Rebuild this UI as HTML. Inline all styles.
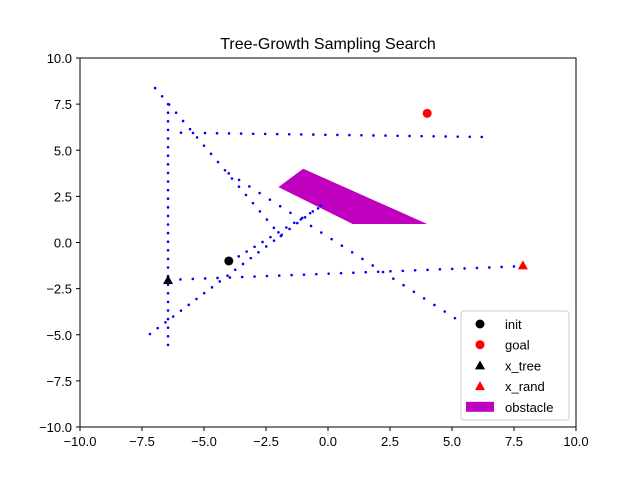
<!DOCTYPE html>
<html><head><meta charset="utf-8"><style>
body{margin:0;background:#fff}
text{font-family:"Liberation Sans","DejaVu Sans",sans-serif;font-size:13px;fill:#000}
</style></head><body>
<svg id="chart" width="640" height="480" xmlns="http://www.w3.org/2000/svg">
<rect width="640" height="480" fill="#fff"/>
<text x="328" y="49" text-anchor="middle" style="font-size:16px">Tree-Growth Sampling Search</text>
<g id="ticks"></g>
<g id="plot"></g>
<rect x="80" y="58" width="496" height="369" fill="none" stroke="#000" stroke-width="1"/>
<g id="legend"></g>
</svg>
<script>
const xTicks=[-10,-7.5,-5,-2.5,0,2.5,5,7.5,10];
const yTicks=[-10,-7.5,-5,-2.5,0,2.5,5,7.5,10];
const segStart=[[-6.45,7.5],[-6.97,8.37],[-4.0,3.75],[-5.93,5.95],[-7.18,-4.96],[-5.95,-2.0],[-3.6,-0.75]];
const segEnd=[[-6.45,-5.55],[-1.9,0.35],[5.12,-4.1],[6.2,5.72],[-0.3,2.0],[7.5,-1.3],[-0.4,1.85]];
const segCount=[28,18,22,25,22,27,10];
const initPt=[-4,-1], goalPt=[4,7], treePt=[-6.45,-2.03], randPt=[7.86,-1.24];
const obstacle=[[-2,3],[-1,4],[4,1],[1,1]];
const X=v=>80+(v+10)*24.8, Y=v=>427-(v+10)*18.45;
const NS="http://www.w3.org/2000/svg";
function mk(t,a,p){const e=document.createElementNS(NS,t);for(const k in a)e.setAttribute(k,a[k]);p.appendChild(e);return e;}
const tk=document.getElementById('ticks'),pl=document.getElementById('plot'),lg=document.getElementById('legend');
const fmt=v=>(v<0?'\u2212':'')+Math.abs(v).toFixed(1);
xTicks.forEach(v=>{const l=mk('line',{x1:X(v),x2:X(v),y1:427,y2:431,stroke:'#000'},tk);


const t=mk('text',{x:X(v),y:446,'text-anchor':'middle'},tk);t.textContent=fmt(v);

});
yTicks.forEach(v=>{const l=mk('line',{x1:76,x2:80,y1:Y(v),y2:Y(v),stroke:'#000'},tk);


const t=mk('text',{x:72,y:Y(v)+5,'text-anchor':'end'},tk);t.textContent=fmt(v);

});
const poly=mk('polygon',{points:obstacle.map(p=>X(p[0])+','+Y(p[1])).join(' '),fill:'#bf00bf'},pl);


segStart.forEach((s,i)=>{const e=segEnd[i],n=segCount[i];const g=mk('g',{},pl);


for(let k=0;k<=n;k++){const f=k/n;const c=mk('circle',{cx:X(s[0]+(e[0]-s[0])*f),cy:Y(s[1]+(e[1]-s[1])*f),r:1.3,fill:'#0000ff'},g);

}});
function tri(x,y,s,col,p){return mk('polygon',{points:`${x},${y-s} ${x-s},${y+s*0.8} ${x+s},${y+s*0.8}`,fill:col},p);}
let m=mk('circle',{cx:X(initPt[0]),cy:Y(initPt[1]),r:4.5,fill:'#000'},pl);


m=mk('circle',{cx:X(goalPt[0]),cy:Y(goalPt[1]),r:4.5,fill:'#f00'},pl);


m=tri(X(treePt[0]),Y(treePt[1]),5,'#000',pl);


m=tri(X(randPt[0]),Y(randPt[1]),5,'#f00',pl);


mk('rect',{x:461,y:311,width:108,height:109,rx:3,fill:'#fff',stroke:'#ccc'},lg);
const labels=['init','goal','x_tree','x_rand','obstacle'];
labels.forEach((t,i)=>{const y=324+i*20.7;
if(i<2)mk('circle',{cx:480,cy:y,r:4.5,fill:i?'#f00':'#000'},lg);
else if(i<4)tri(480,y,5,i==2?'#000':'#f00',lg);
else mk('rect',{x:466,y:y-5,width:28,height:10,fill:'#bf00bf'},lg);
const tx=mk('text',{x:505,y:y+5},lg);tx.textContent=t;

});
</script>
</body></html>
